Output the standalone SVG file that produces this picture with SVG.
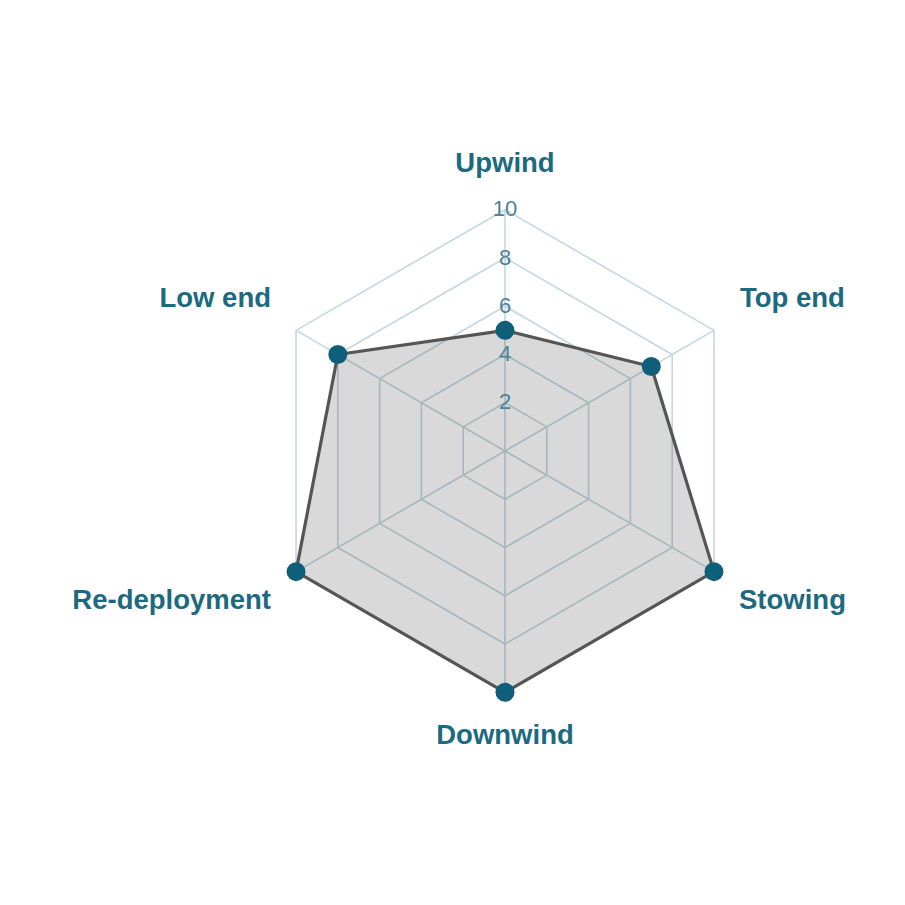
<svg xmlns="http://www.w3.org/2000/svg" width="905" height="905" viewBox="0 0 905 905">
<style>
.grid{fill:none;stroke:#c3d7de;stroke-width:1.6}
.tick{font-family:"Liberation Sans",Arial,sans-serif;font-size:22px;fill:#4b8396;text-anchor:middle;dominant-baseline:central}
.lbl{font-family:"Liberation Sans",Arial,sans-serif;font-size:27.5px;font-weight:bold;fill:#1b6a80}
.pt{fill:#0f5f7a}
</style>
<rect width="905" height="905" fill="#ffffff"/>
<g id="grid">
<polygon class="grid" points="505,209.7 713.97,330.35 713.97,571.65 505,692.3 296.03,571.65 296.03,330.35"/>
<polygon class="grid" points="505,257.96 672.18,354.48 672.18,547.52 505,644.04 337.82,547.52 337.82,354.48"/>
<polygon class="grid" points="505,306.22 630.38,378.61 630.38,523.39 505,595.78 379.62,523.39 379.62,378.61"/>
<polygon class="grid" points="505,354.48 588.59,402.74 588.59,499.26 505,547.52 421.41,499.26 421.41,402.74"/>
<polygon class="grid" points="505,402.74 546.79,426.87 546.79,475.13 505,499.26 463.21,475.13 463.21,426.87"/>
<line class="grid" x1="505" y1="451" x2="505" y2="209.7"/>
<line class="grid" x1="505" y1="451" x2="713.97" y2="330.35"/>
<line class="grid" x1="505" y1="451" x2="713.97" y2="571.65"/>
<line class="grid" x1="505" y1="451" x2="505" y2="692.3"/>
<line class="grid" x1="505" y1="451" x2="296.03" y2="571.65"/>
<line class="grid" x1="505" y1="451" x2="296.03" y2="330.35"/>
</g>
<g id="series">
<polygon points="505,330.35 651.28,366.54 713.97,571.65 505,692.3 296.03,571.65 337.82,354.48" fill="rgba(0,0,0,0.15)" stroke="#555555" stroke-width="3.2" stroke-linejoin="round"/>
</g>
<g id="ticks">
<text class="tick" x="505" y="208">10</text>
<text class="tick" x="505" y="257">8</text>
<text class="tick" x="505" y="305">6</text>
<text class="tick" x="505" y="353">4</text>
<text class="tick" x="505" y="401">2</text>
</g>
<g id="points">
<g id="p-upwind"><circle class="pt" cx="505" cy="330.35" r="9.5"/></g>
<g id="p-topend"><circle class="pt" cx="651.28" cy="366.54" r="9.5"/></g>
<g id="p-stowing"><circle class="pt" cx="713.97" cy="571.65" r="9.5"/></g>
<g id="p-downwind"><circle class="pt" cx="505" cy="692.3" r="9.5"/></g>
<g id="p-redeployment"><circle class="pt" cx="296.03" cy="571.65" r="9.5"/></g>
<g id="p-lowend"><circle class="pt" cx="337.82" cy="354.48" r="9.5"/></g>
</g>
<g id="labels">
<text class="lbl" x="505" y="172" text-anchor="middle">Upwind</text>
<text class="lbl" x="740" y="307" text-anchor="start">Top end</text>
<text class="lbl" x="739" y="609" text-anchor="start">Stowing</text>
<text class="lbl" x="505" y="744" text-anchor="middle">Downwind</text>
<text class="lbl" x="271" y="609" text-anchor="end">Re-deployment</text>
<text class="lbl" x="271" y="307" text-anchor="end">Low end</text>
</g>
</svg>
